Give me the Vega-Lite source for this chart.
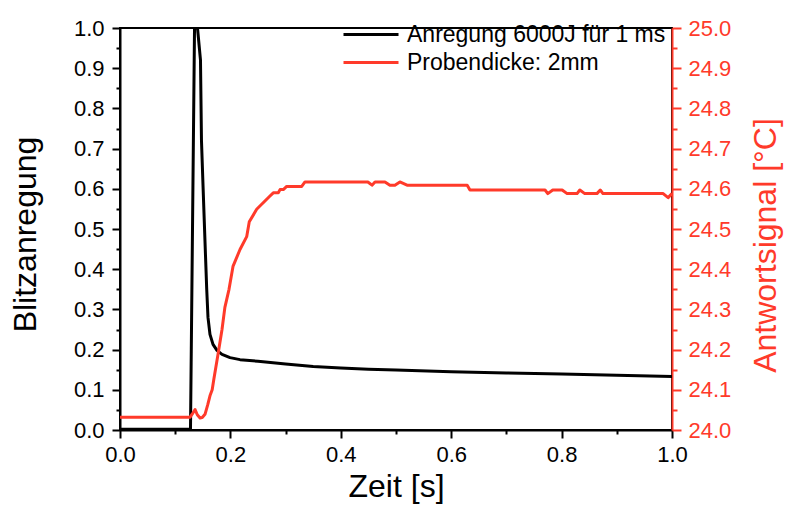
{
  "$schema": "https://vega.github.io/schema/vega-lite/v6.json",
  "width": 552,
  "height": 402,
  "autosize": {"type": "none"},
  "padding": {"left": 120, "top": 28, "right": 113, "bottom": 81},
  "background": "white",
  "config": {
    "font": "Liberation Sans",
    "view": {"stroke": "black", "strokeWidth": 2},
    "axis": {
      "grid": false,
      "labelFont": "Liberation Sans",
      "titleFont": "Liberation Sans",
      "labelFontSize": 22,
      "titleFontSize": 32,
      "titleFontWeight": "normal",
      "domainWidth": 2,
      "tickWidth": 2,
      "labelOverlap": false,
      "labelFlush": false
    }
  },
  "datasets": {
    "anregung": [
      {"t": 0.0, "v": 0.002}, {"t": 0.05, "v": 0.002}, {"t": 0.1, "v": 0.002},
      {"t": 0.1277, "v": 0.002}, {"t": 0.135, "v": 1.0}, {"t": 0.1404, "v": 1.0},
      {"t": 0.1458, "v": 0.92}, {"t": 0.1476, "v": 0.72}, {"t": 0.1504, "v": 0.608},
      {"t": 0.154, "v": 0.468}, {"t": 0.1571, "v": 0.35}, {"t": 0.1594, "v": 0.28},
      {"t": 0.163, "v": 0.238}, {"t": 0.1685, "v": 0.213}, {"t": 0.1757, "v": 0.198},
      {"t": 0.1848, "v": 0.188}, {"t": 0.1993, "v": 0.18}, {"t": 0.2174, "v": 0.175},
      {"t": 0.25, "v": 0.171}, {"t": 0.3, "v": 0.164}, {"t": 0.35, "v": 0.158},
      {"t": 0.4, "v": 0.154}, {"t": 0.45, "v": 0.151}, {"t": 0.5, "v": 0.149},
      {"t": 0.6, "v": 0.145}, {"t": 0.7, "v": 0.142}, {"t": 0.8, "v": 0.139},
      {"t": 0.9, "v": 0.136}, {"t": 1.0, "v": 0.133}
    ],
    "probe": [
      {"t": 0.0, "v": 24.032}, {"t": 0.127, "v": 24.032}, {"t": 0.131, "v": 24.04},
      {"t": 0.136, "v": 24.051}, {"t": 0.14, "v": 24.038}, {"t": 0.145, "v": 24.03},
      {"t": 0.149, "v": 24.031}, {"t": 0.154, "v": 24.039}, {"t": 0.159, "v": 24.063},
      {"t": 0.163, "v": 24.085}, {"t": 0.167, "v": 24.1}, {"t": 0.17, "v": 24.126},
      {"t": 0.1775, "v": 24.188}, {"t": 0.1848, "v": 24.25}, {"t": 0.19, "v": 24.305},
      {"t": 0.1975, "v": 24.35}, {"t": 0.2047, "v": 24.407}, {"t": 0.2174, "v": 24.449},
      {"t": 0.2295, "v": 24.481}, {"t": 0.2342, "v": 24.518}, {"t": 0.2476, "v": 24.549},
      {"t": 0.2717, "v": 24.582}, {"t": 0.2777, "v": 24.59}, {"t": 0.2868, "v": 24.59},
      {"t": 0.2899, "v": 24.598}, {"t": 0.2958, "v": 24.598}, {"t": 0.302, "v": 24.606},
      {"t": 0.3292, "v": 24.606}, {"t": 0.3351, "v": 24.617}, {"t": 0.449, "v": 24.617},
      {"t": 0.4565, "v": 24.609}, {"t": 0.462, "v": 24.617}, {"t": 0.48, "v": 24.617},
      {"t": 0.489, "v": 24.609}, {"t": 0.498, "v": 24.609}, {"t": 0.507, "v": 24.617},
      {"t": 0.52, "v": 24.609}, {"t": 0.629, "v": 24.609}, {"t": 0.634, "v": 24.597},
      {"t": 0.77, "v": 24.597}, {"t": 0.775, "v": 24.588}, {"t": 0.784, "v": 24.597},
      {"t": 0.801, "v": 24.597}, {"t": 0.81, "v": 24.588}, {"t": 0.828, "v": 24.588},
      {"t": 0.833, "v": 24.597}, {"t": 0.842, "v": 24.588}, {"t": 0.864, "v": 24.588},
      {"t": 0.87, "v": 24.597}, {"t": 0.875, "v": 24.588}, {"t": 0.984, "v": 24.588},
      {"t": 0.993, "v": 24.578}, {"t": 1.0, "v": 24.588}
    ]
  },
  "layer": [
    {
      "data": {"name": "anregung"},
      "mark": {"type": "line", "strokeWidth": 3, "strokeJoin": "round", "clip": true},
      "encoding": {
        "x": {
          "field": "t", "type": "quantitative",
          "scale": {"domain": [0, 1], "nice": false},
          "axis": {
            "title": "Zeit [s]",
            "values": [0, 0.1, 0.2, 0.3, 0.4, 0.5, 0.6, 0.7, 0.8, 0.9, 1.0],
            "labelExpr": "round(datum.value*10) % 2 === 0 ? format(datum.value, '.1f') : ''",
            "tickSize": {"condition": {"test": "round(datum.value*10) % 2 === 0", "value": 8}, "value": 4},
            "labelPadding": 6,
            "domainColor": "black", "tickColor": "black", "labelColor": "black", "titleColor": "black",
            "titlePadding": 6
          }
        },
        "y": {
          "field": "v", "type": "quantitative",
          "scale": {"domain": [0, 1], "nice": false},
          "axis": {
            "title": "Blitzanregung",
            "orient": "left",
            "values": [0, 0.05, 0.1, 0.15, 0.2, 0.25, 0.3, 0.35, 0.4, 0.45, 0.5, 0.55, 0.6, 0.65, 0.7, 0.75, 0.8, 0.85, 0.9, 0.95, 1.0],
            "labelExpr": "abs(datum.value*10 - round(datum.value*10)) < 0.01 ? format(datum.value, '.1f') : ''",
            "tickSize": {"condition": {"test": "abs(datum.value*10 - round(datum.value*10)) < 0.01", "value": 8}, "value": 4},
            "labelPadding": 8,
            "domainColor": "black", "tickColor": "black", "labelColor": "black", "titleColor": "black",
            "titlePadding": 31,
            "titleY": 206
          }
        },
        "color": {
          "datum": "Anregung 6000J für 1 ms",
          "type": "nominal",
          "scale": {"domain": ["Anregung 6000J für 1 ms", "Probendicke: 2mm"], "range": ["#000000", "#ff3a2a"]},
          "legend": {
            "title": null,
            "orient": "none",
            "legendX": 238.5,
            "legendY": -6,
            "padding": 0,
            "symbolType": "M-2.5,0H2.5",
            "symbolSize": 484,
            "symbolStrokeWidth": 3,
            "labelFont": "Liberation Sans",
            "labelFontSize": 23,
            "labelLimit": 400,
            "labelOffset": 23.5,
            "rowPadding": 3
          }
        }
      }
    },
    {
      "data": {"name": "probe"},
      "mark": {"type": "line", "strokeWidth": 3, "strokeJoin": "round", "clip": true},
      "encoding": {
        "x": {"field": "t", "type": "quantitative", "scale": {"domain": [0, 1], "nice": false}},
        "y": {
          "field": "v", "type": "quantitative",
          "scale": {"domain": [24, 25], "nice": false, "zero": false},
          "axis": {
            "title": "Antwortsignal [°C]",
            "orient": "right",
            "titleAngle": -90,
            "titleBaseline": "top",
            "titleY": 217,
            "values": [24, 24.05, 24.1, 24.15, 24.2, 24.25, 24.3, 24.35, 24.4, 24.45, 24.5, 24.55, 24.6, 24.65, 24.7, 24.75, 24.8, 24.85, 24.9, 24.95, 25.0],
            "labelExpr": "abs(datum.value*10 - round(datum.value*10)) < 0.01 ? format(datum.value, '.1f') : ''",
            "tickSize": {"condition": {"test": "abs(datum.value*10 - round(datum.value*10)) < 0.01", "value": 9}, "value": 5},
            "labelPadding": 7,
            "domainColor": "#ff3a2a", "tickColor": "#ff3a2a", "labelColor": "#ff3a2a", "titleColor": "#ff3a2a",
            "titlePadding": 20
          }
        },
        "color": {"datum": "Probendicke: 2mm", "type": "nominal"}
      }
    }
  ],
  "resolve": {"scale": {"y": "independent"}}
}
